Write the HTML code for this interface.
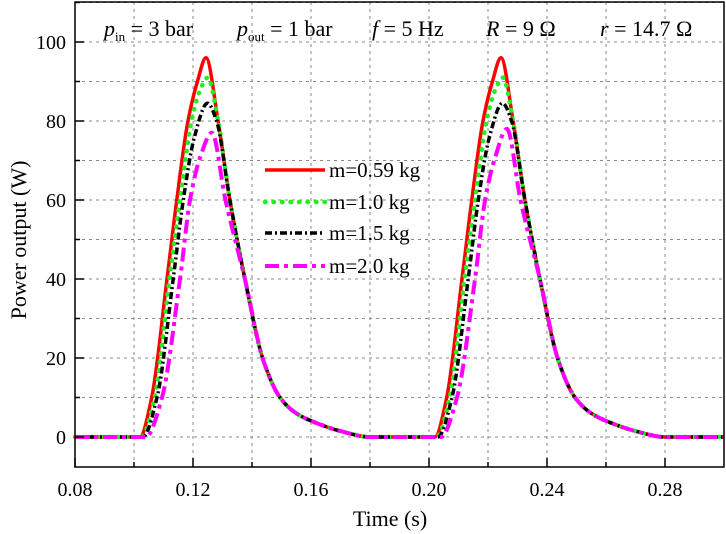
<!DOCTYPE html>
<html><head><meta charset="utf-8"><style>
body{margin:0;background:#fff;}
svg{display:block;font-family:"Liberation Serif",serif;}
</style></head><body>
<svg id="chart" width="726" height="534" viewBox="0 0 726 534">
<g id="grid"></g>
<g id="series"></g>
<rect x="75" y="2" width="649" height="465" fill="none" stroke="#000" stroke-width="1.5"/>
<g id="axes"></g>
<g font-size="22">
<text x="104" y="36"><tspan font-style="italic">p</tspan><tspan font-size="13" dy="5">in</tspan><tspan dy="-5"> = 3 bar</tspan></text>
<text x="237" y="36"><tspan font-style="italic">p</tspan><tspan font-size="13" dy="5">out</tspan><tspan dy="-5"> = 1 bar</tspan></text>
<text x="372" y="36"><tspan font-style="italic">f</tspan> = 5 Hz</text>
<text x="486" y="36"><tspan font-style="italic">R</tspan> = 9 Ω</text>
<text x="600" y="36"><tspan font-style="italic">r</tspan> = 14.7 Ω</text>
</g>
<text x="390" y="526" font-size="22" text-anchor="middle">Time (s)</text>
<text transform="translate(26,240) rotate(-90)" font-size="22" text-anchor="middle">Power output (W)</text>
<g id="legend"></g>
</svg>
<script>
const xTicks=[0.08,0.12,0.16,0.20,0.24,0.28];
const xTickLabels=["0.08","0.12","0.16","0.20","0.24","0.28"];
const yTicks=[0,20,40,60,80,100];
const yTickLabels=["0","20","40","60","80","100"];
const seriesNames=["m=0.59 kg","m=1.0 kg","m=1.5 kg","m=2.0 kg"];
const tRed=[0.08,0.102,0.106,0.1112,0.1145,0.1183,0.1215,0.1244,0.1285,0.1325,0.1376,0.1438,0.1495,0.155,0.162,0.17,0.18,0.202,0.206,0.2112,0.2145,0.2183,0.2215,0.2244,0.2285,0.2325,0.2376,0.2438,0.2495,0.255,0.262,0.27,0.28,0.30];
const vRed=[0,0,10,40,60,80,90,96,80,60,40,19.5,10,6,3.5,1.5,0,0,10,40,60,80,90,96,80,60,40,19.5,10,6,3.5,1.5,0,0];
const tGreen=[0.08,0.1025,0.107,0.112,0.1156,0.1195,0.1225,0.125,0.1285,0.1325,0.1376,0.1438,0.1495,0.155,0.162,0.17,0.18,0.2025,0.207,0.212,0.2156,0.2195,0.2225,0.225,0.2285,0.2325,0.2376,0.2438,0.2495,0.255,0.262,0.27,0.28,0.30];
const vGreen=[0,0,10,40,60,80,88,91,80,60,40,19.5,10,6,3.5,1.5,0,0,10,40,60,80,88,91,80,60,40,19.5,10,6,3.5,1.5,0,0];
const tBlack=[0.08,0.103,0.1078,0.1133,0.1167,0.1205,0.1249,0.128,0.1325,0.1376,0.1438,0.1495,0.155,0.162,0.17,0.18,0.203,0.2078,0.2133,0.2167,0.2205,0.2249,0.228,0.2325,0.2376,0.2438,0.2495,0.255,0.262,0.27,0.28,0.30];
const vBlack=[0,0,10,40,60,76,84.5,80,60,40,19.5,10,6,3.5,1.5,0,0,10,40,60,76,84.5,80,60,40,19.5,10,6,3.5,1.5,0,0];
const tMag=[0.08,0.104,0.1095,0.1156,0.119,0.1225,0.1264,0.131,0.1376,0.1438,0.1495,0.155,0.162,0.17,0.18,0.204,0.2095,0.2156,0.219,0.2225,0.2264,0.231,0.2376,0.2438,0.2495,0.255,0.262,0.27,0.28,0.30];
const vMag=[0,0,10,40,60,71,77,60,40,19.5,10,6,3.5,1.5,0,0,10,40,60,71,78,60,40,19.5,10,6,3.5,1.5,0,0];

const NS="http://www.w3.org/2000/svg";
const X=t=>75+(t-0.08)/0.02*59;
const Y=v=>437-v*3.95;
function mk(tag,attrs,parent){const e=document.createElementNS(NS,tag);for(const k in attrs)e.setAttribute(k,attrs[k]);parent.appendChild(e);return e;}
function monoPath(xs,ys){
 const n=xs.length,d=[],m=new Array(n);
 for(let i=0;i<n-1;i++)d.push((ys[i+1]-ys[i])/(xs[i+1]-xs[i]));
 m[0]=d[0];m[n-1]=d[n-2];
 for(let i=1;i<n-1;i++){if(d[i-1]*d[i]<=0)m[i]=0;else{const w1=2*(xs[i+1]-xs[i])+(xs[i]-xs[i-1]),w2=(xs[i+1]-xs[i])+2*(xs[i]-xs[i-1]);m[i]=(w1+w2)/(w1/d[i-1]+w2/d[i]);}}
 let p='M'+xs[0].toFixed(1)+','+ys[0].toFixed(1);
 for(let i=0;i<n-1;i++){const h=xs[i+1]-xs[i];
  p+=' C'+(xs[i]+h/3).toFixed(1)+','+(ys[i]+m[i]*h/3).toFixed(1)+' '+(xs[i+1]-h/3).toFixed(1)+','+(ys[i+1]-m[i+1]*h/3).toFixed(1)+' '+xs[i+1].toFixed(1)+','+ys[i+1].toFixed(1);}
 return p;}
const grid=document.getElementById('grid'),axes=document.getElementById('axes');
for(let i=0;i<=10;i++){const t=0.08+i*0.02;const x=X(t);
 if(i>0){const g=mk('line',{x1:x,x2:x,y1:2,y2:467,stroke:'#888','stroke-width':1,'stroke-dasharray':'3 4'},grid);
 
 }
 const tk=mk('line',{x1:x,x2:x,y1:467,y2:i%2===0?458:462,stroke:'#000','stroke-width':1.5},axes);
 
 }
for(let v=0;v<=110;v+=10){const y=Y(v);
 const g=mk('line',{x1:75,x2:724,y1:y,y2:y,stroke:'#888','stroke-width':1,'stroke-dasharray':'3 4'},grid);
 
 
 const tk=mk('line',{x1:75,x2:v%20===0?84:80,y1:y,y2:y,stroke:'#000','stroke-width':1.5},axes);
 
 }
xTicks.forEach((t,i)=>{const e=mk('text',{x:X(t),y:496,'font-size':20,'text-anchor':'middle'},axes);e.textContent=xTickLabels[i];
 
 });
yTicks.forEach((v,i)=>{const e=mk('text',{x:66,y:Y(v)+7,'font-size':20,'text-anchor':'end'},axes);e.textContent=yTickLabels[i];
 
 });
const styles=[{c:'#ff0000',w:3.5,d:'',cap:'butt'},{c:'#22ee22',w:4.5,d:'0.5 8',cap:'round'},{c:'#000',w:3.5,d:'7 3 2 3',cap:'butt'},{c:'#ff00ff',w:4,d:'14 5 4 5',cap:'butt'}];
const data=[[tRed,vRed,0],[tGreen,vGreen,1],[tBlack,vBlack,2],[tMag,vMag,3]];
const sg=document.getElementById('series');
data.forEach(([ts,vs,si])=>{const s=styles[si];
 const d=monoPath(ts.map(X),vs.map(Y));
 const p=mk('path',{d:d,fill:'none',stroke:s.c,'stroke-width':s.w,'stroke-dasharray':s.d,'stroke-linecap':s.cap,'stroke-linejoin':'round'},sg);
 
 });
const lg=document.getElementById('legend');
const rows=[170,202,233,266];
seriesNames.forEach((n,i)=>{const s=styles[i];
 const l=mk('line',{x1:265,x2:325,y1:rows[i],y2:rows[i],stroke:s.c,'stroke-width':s.w,'stroke-dasharray':s.d,'stroke-linecap':s.cap},lg);
 
 
 const t=mk('text',{x:329,y:rows[i]+7,'font-size':21},lg);t.textContent=n;
 
 });
</script>
</body></html>
